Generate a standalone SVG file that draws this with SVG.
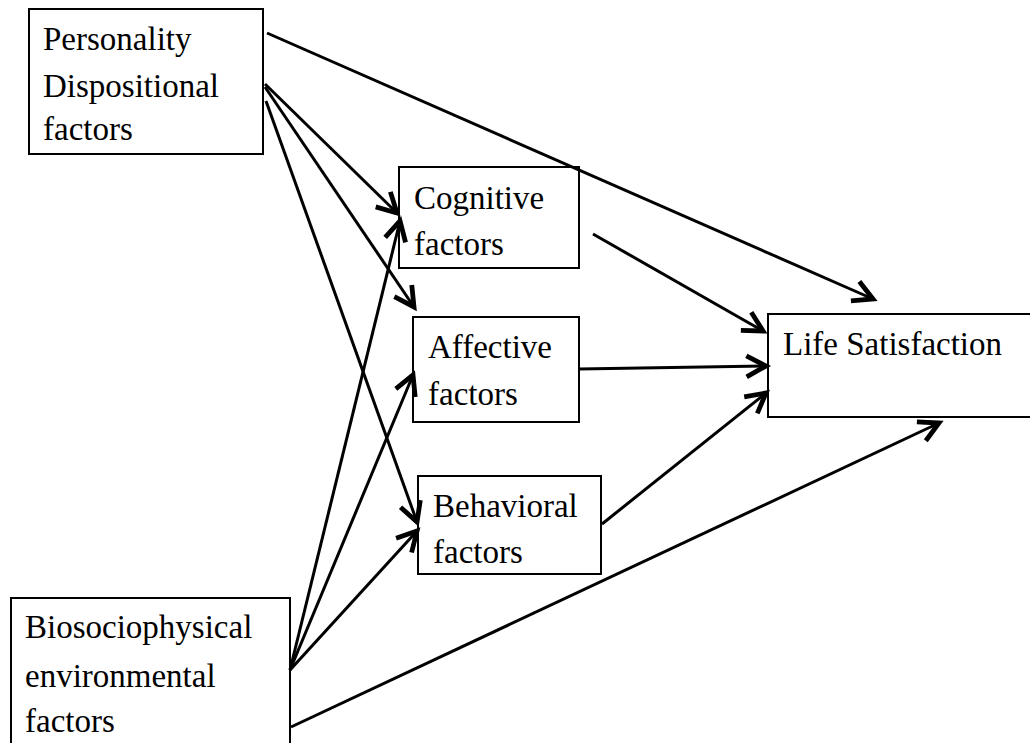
<svg xmlns="http://www.w3.org/2000/svg" width="1030" height="743" viewBox="0 0 1030 743">
<style>
.box{fill:#fff;stroke:#000;stroke-width:2}
.t{font-family:"Liberation Serif","Times New Roman",serif;font-size:33px;fill:#000}
.c{stroke:#000;stroke-width:3;fill:none;marker-end:url(#arr)}
</style>
<defs>
<marker id="arr" markerUnits="userSpaceOnUse" markerWidth="30" markerHeight="30" viewBox="-16 -10 20 20" refX="0" refY="0" orient="auto">
<path d="M-13,-7 L0,0 L-13,7" fill="none" stroke="#000" stroke-width="3.2"/>
</marker>
</defs>
<rect width="1030" height="743" fill="#fff"/>
<g id="personality">
<rect class="box" x="29" y="9" width="234" height="145"/>
<text class="t" x="43" y="50">Personality</text>
<text class="t" x="43" y="97">Dispositional</text>
<text class="t" x="43" y="140">factors</text>
</g>
<g id="cognitive">
<rect class="box" x="399" y="167" width="180" height="101"/>
<text class="t" x="414" y="209">Cognitive</text>
<text class="t" x="414" y="255">factors</text>
</g>
<g id="affective">
<rect class="box" x="413" y="317" width="166" height="105"/>
<text class="t" x="428" y="358">Affective</text>
<text class="t" x="428" y="405">factors</text>
</g>
<g id="behavioral">
<rect class="box" x="418" y="476" width="183" height="98"/>
<text class="t" x="433" y="517">Behavioral</text>
<text class="t" x="433" y="563">factors</text>
</g>
<g id="lifesatisfaction">
<rect class="box" x="768" y="314" width="280" height="103"/>
<text class="t" x="783" y="355">Life Satisfaction</text>
</g>
<g id="biosociophysical">
<rect class="box" x="11" y="598" width="279" height="170"/>
<text class="t" x="25" y="638">Biosociophysical</text>
<text class="t" x="25" y="687">environmental</text>
<text class="t" x="25" y="732">factors</text>
</g>
<g id="connectors">
<line class="c" x1="267" y1="33" x2="873" y2="299"/>
<line class="c" x1="265" y1="84" x2="397" y2="213"/>
<line class="c" x1="265" y1="87" x2="414" y2="307"/>
<line class="c" x1="266" y1="101" x2="417" y2="522"/>
<line class="c" x1="593" y1="234" x2="763" y2="331"/>
<line class="c" x1="579" y1="369" x2="766" y2="366"/>
<line class="c" x1="602" y1="524" x2="766" y2="393"/>
<line class="c" x1="291" y1="727" x2="939" y2="423"/>
<line class="c" x1="290" y1="670" x2="400" y2="221"/>
<line class="c" x1="290" y1="670" x2="413" y2="375"/>
<line class="c" x1="290" y1="670" x2="417" y2="531"/>
</g>
</svg>
